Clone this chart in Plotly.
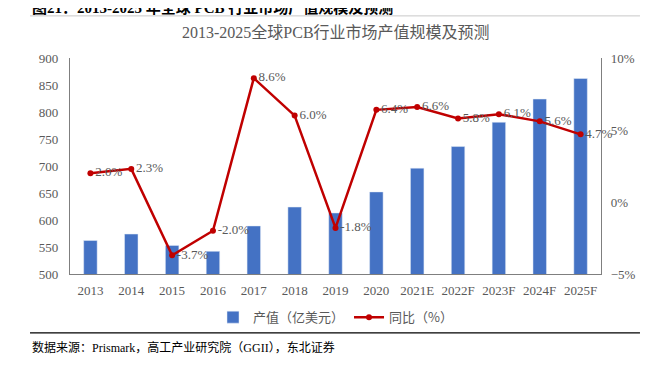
import plotly.graph_objects as go

years = ["2013", "2014", "2015", "2016", "2017", "2018", "2019", "2020",
         "2021E", "2022F", "2023F", "2024F", "2025F"]
output_value = [562, 574, 553, 542, 589, 624, 613, 652, 696, 736, 781, 824, 862]
growth_pct = [2.0, 2.3, -3.7, -2.0, 8.6, 6.0, -1.8, 6.4, 6.6, 5.8, 6.1, 5.6, 4.7]
growth_labels = [f"{v:.1f}%" for v in growth_pct]

FONT = "Liberation Serif, Noto Sans CJK SC, serif"
GRAY = "#595959"

fig = go.Figure()
fig.add_trace(go.Bar(
    x=years, y=output_value, name="产值（亿美元）",
    marker=dict(color="#4472C4"), yaxis="y",
))
fig.add_trace(go.Scatter(
    x=years, y=growth_pct, name="同比（%）", yaxis="y2",
    mode="lines+markers+text", cliponaxis=False,
    line=dict(color="#C00000", width=2.5),
    marker=dict(color="#C00000", size=6),
    text=growth_labels, textposition="middle right",
    textfont=dict(family=FONT, size=13, color=GRAY),
))

fig.update_layout(
    width=656, height=368,
    margin=dict(l=62, r=63, t=50, b=102),
    paper_bgcolor="white", plot_bgcolor="white",
    font=dict(family=FONT, size=13, color=GRAY),
    bargap=0.67,
    showlegend=True,
    legend=dict(orientation="h", x=0.5, xanchor="center", y=-0.2, yanchor="middle",
                font=dict(family="Noto Sans CJK SC, sans-serif", size=13, color=GRAY),
                itemwidth=30),
    xaxis=dict(range=[-0.5, len(years) - 0.5], showline=True, linecolor="#7f7f7f",
               linewidth=1.2, ticks="", ticklabelstandoff=4,
               tickfont=dict(family=FONT, size=13, color=GRAY), mirror=False),
    yaxis=dict(range=[500, 900], dtick=50, showgrid=False, showline=True,
               linecolor="#7f7f7f", linewidth=1.2, ticks="", zeroline=False,
               ticklabelstandoff=8,
               tickfont=dict(family=FONT, size=13, color=GRAY)),
    yaxis2=dict(range=[-5, 10], dtick=5, ticksuffix="%", overlaying="y", side="right",
                showgrid=False, showline=True, linecolor="#7f7f7f", linewidth=1.2,
                ticks="", zeroline=False, ticklabelstandoff=6,
                tickfont=dict(family=FONT, size=13, color=GRAY)),
    annotations=[
        dict(text="2013-2025全球PCB行业市场产值规模及预测", xref="paper", yref="paper",
             x=0.5, y=1.116, xanchor="center", yanchor="middle", showarrow=False,
             font=dict(family=FONT, size=16, color=GRAY)),
        dict(text="<b>图21：2013-2025 年全球 PCB 行业市场产值规模及预测</b>", xref="paper", yref="paper",
             x=-0.0753, y=1.236, xanchor="left", yanchor="middle", showarrow=False,
             font=dict(family=FONT, size=15, color="#000000")),
        dict(text="数据来源：Prismark，高工产业研究院（GGII），东北证券", xref="paper", yref="paper",
             x=-0.0753, y=-0.338, xanchor="left", yanchor="middle", showarrow=False,
             font=dict(family=FONT, size=12, color="#000000")),
    ],
    shapes=[
        dict(type="line", xref="paper", yref="paper", x0=-0.0753, x1=1.0734,
             y0=1.195, y1=1.195, line=dict(color="#c8c8c8", width=1)),
        dict(type="line", xref="paper", yref="paper", x0=-0.0753, x1=1.0734,
             y0=-0.273, y1=-0.273, line=dict(color="#000000", width=1.2)),
    ],
)

fig.write_html("out.html")
